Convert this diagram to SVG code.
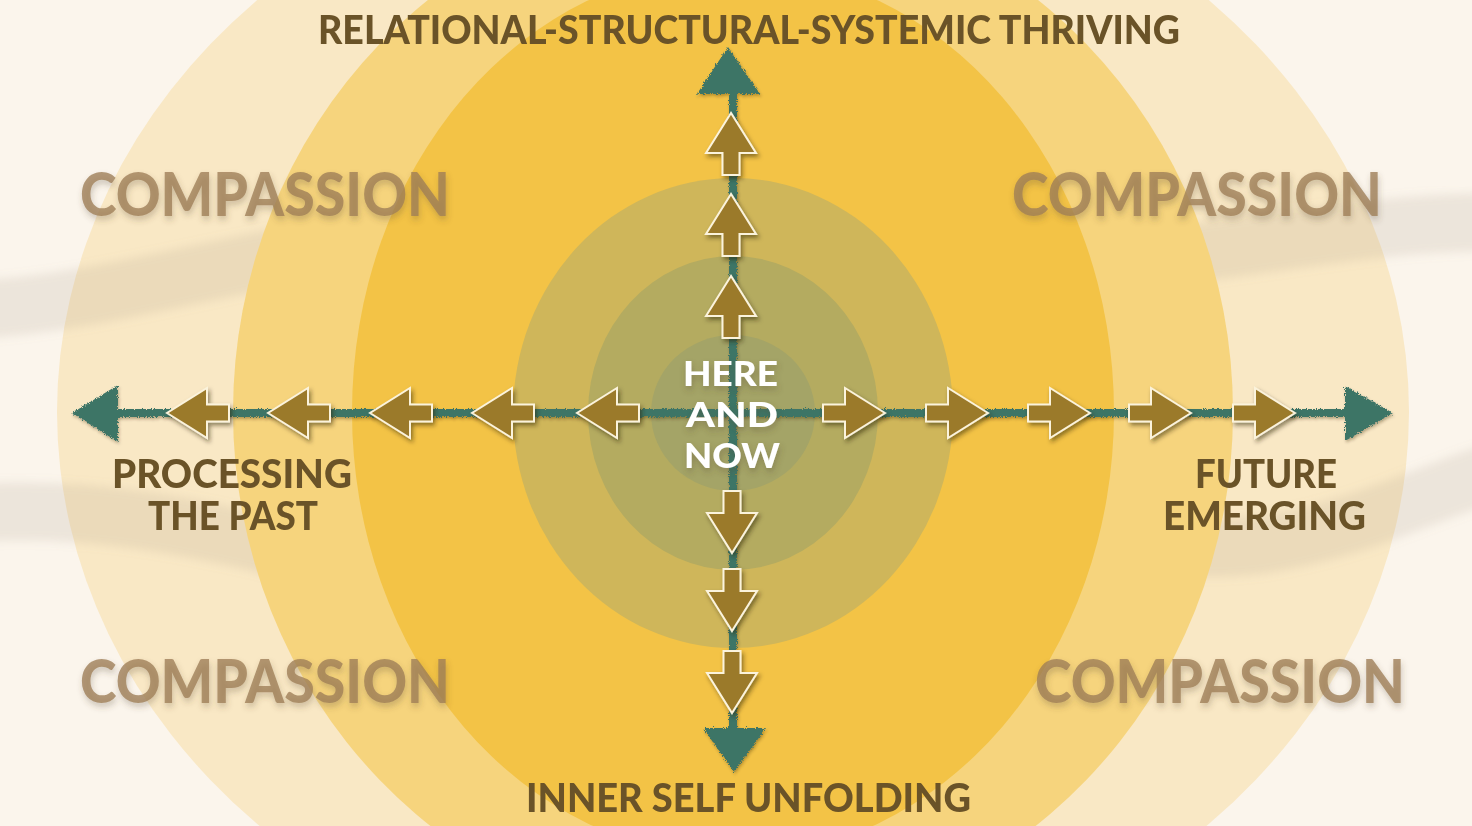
<svg xmlns="http://www.w3.org/2000/svg" width="1472" height="826" viewBox="0 0 1472 826">
<defs>
<style>
.lbl{font-family:"Lato","Open Sans","Liberation Sans",sans-serif;font-weight:900;fill:#6a5328;}
.comp{font-family:"Lato","Open Sans","Liberation Sans",sans-serif;font-weight:900;fill:#9e7d57;fill-opacity:0.78;font-size:60px;}
.ctr{font-family:"Lato","Open Sans","Liberation Sans",sans-serif;font-weight:900;fill:#ffffff;font-size:35px;}
.chalk{fill:#3e7466;}
.blk{fill:#9b7a2c;stroke:#fbf3dc;stroke-width:2;stroke-linejoin:miter;}
</style>
<filter id="shadow" x="-20%" y="-20%" width="140%" height="140%">
<feDropShadow dx="2" dy="3" stdDeviation="2" flood-color="#2b1d05" flood-opacity="0.5"/>
</filter>
<filter id="softshadow" x="-10%" y="-30%" width="120%" height="160%">
<feDropShadow dx="1" dy="4" stdDeviation="3" flood-color="#5a4630" flood-opacity="0.35"/>
</filter>
<filter id="chalky" x="-5%" y="-5%" width="110%" height="110%">
<feTurbulence type="fractalNoise" baseFrequency="0.9" numOctaves="2" seed="3" result="n"/>
<feDisplacementMap in="SourceGraphic" in2="n" scale="5" xChannelSelector="R" yChannelSelector="G" result="d"/>
<feDropShadow dx="1" dy="2" stdDeviation="1.5" flood-color="#3a2a00" flood-opacity="0.35"/>
</filter>
<filter id="blur8"><feGaussianBlur stdDeviation="5"/></filter>
<path id="ba" d="M0,0 L-40,-25 L-40,-8.5 L-62,-8.5 L-62,8.5 L-40,8.5 L-40,25 Z"/>
</defs>

<rect width="1472" height="826" fill="#fbf5ec"/>

<g id="rings">
<ellipse cx="733" cy="412" rx="676" ry="580" fill="#f9e8c5"/>
<g id="waves" fill="none" stroke="#a89484" stroke-width="58" stroke-opacity="0.17" filter="url(#blur8)">
<path d="M-30,310 C120,303 250,250 480,228 C650,212 820,250 1000,262 C1180,272 1320,222 1500,222"/>
<path d="M-30,513 C100,505 200,528 330,560 C480,595 620,560 760,540 C950,515 1150,560 1260,545 C1360,530 1420,495 1500,470"/>
</g>
<ellipse cx="733" cy="412" rx="500" ry="520" fill="#f6d47d"/>
<ellipse cx="733" cy="412" rx="381" ry="445" fill="#f3c346"/>
<ellipse cx="733" cy="413" rx="220" ry="235" fill="#cfb65a"/>
<ellipse cx="733" cy="413" rx="145" ry="157" fill="#b4ab60"/>
<ellipse cx="733" cy="413" rx="82" ry="78" fill="#a4a467"/>
</g>

<g id="connectors">
<g filter="url(#chalky)">
<rect class="chalk" x="110" y="409" width="1240" height="8"/>
<rect class="chalk" x="729" y="88" width="8" height="645"/>
<polygon class="chalk" points="72,413 118,385 118,442"/>
<polygon class="chalk" points="1393,413 1345,386 1345,441"/>
<polygon class="chalk" points="728,47 697,94 760,94"/>
<polygon class="chalk" points="734,772 703,728 766,728"/>
</g>
<g filter="url(#shadow)">
<use href="#ba" class="blk" transform="translate(885,413)"/>
<use href="#ba" class="blk" transform="translate(988,413)"/>
<use href="#ba" class="blk" transform="translate(1090,413)"/>
<use href="#ba" class="blk" transform="translate(1191,413)"/>
<use href="#ba" class="blk" transform="translate(1295,413)"/>
<use href="#ba" class="blk" transform="translate(577,413) rotate(180)"/>
<use href="#ba" class="blk" transform="translate(472,413) rotate(180)"/>
<use href="#ba" class="blk" transform="translate(370,413) rotate(180)"/>
<use href="#ba" class="blk" transform="translate(268,413) rotate(180)"/>
<use href="#ba" class="blk" transform="translate(167,413) rotate(180)"/>
<use href="#ba" class="blk" transform="translate(731,113) rotate(-90)"/>
<use href="#ba" class="blk" transform="translate(731,194) rotate(-90)"/>
<use href="#ba" class="blk" transform="translate(731,276) rotate(-90)"/>
<use href="#ba" class="blk" transform="translate(732,553) rotate(90)"/>
<use href="#ba" class="blk" transform="translate(732,631) rotate(90)"/>
<use href="#ba" class="blk" transform="translate(732,713) rotate(90)"/>
</g>
</g>

<g id="node-top"><text class="lbl" x="749" y="44" font-size="40" text-anchor="middle" textLength="862" lengthAdjust="spacingAndGlyphs">RELATIONAL-STRUCTURAL-SYSTEMIC THRIVING</text></g>
<g id="node-bottom"><text class="lbl" x="748.5" y="812" font-size="40" text-anchor="middle" textLength="445" lengthAdjust="spacingAndGlyphs">INNER SELF UNFOLDING</text></g>
<g id="node-left">
<text class="lbl" x="232" y="488" font-size="39" text-anchor="middle" textLength="240" lengthAdjust="spacingAndGlyphs">PROCESSING</text>
<text class="lbl" x="233" y="530" font-size="39" text-anchor="middle" textLength="170" lengthAdjust="spacingAndGlyphs">THE PAST</text>
</g>
<g id="node-right">
<text class="lbl" x="1266" y="488" font-size="39" text-anchor="middle" textLength="142" lengthAdjust="spacingAndGlyphs">FUTURE</text>
<text class="lbl" x="1264.5" y="530" font-size="39" text-anchor="middle" textLength="203" lengthAdjust="spacingAndGlyphs">EMERGING</text>
</g>
<g id="node-center" filter="url(#softshadow)">
<text class="ctr" x="730.5" y="386" text-anchor="middle" textLength="95" lengthAdjust="spacingAndGlyphs">HERE</text>
<text class="ctr" x="732" y="427" text-anchor="middle" textLength="92" lengthAdjust="spacingAndGlyphs">AND</text>
<text class="ctr" x="732" y="468" text-anchor="middle" textLength="96" lengthAdjust="spacingAndGlyphs">NOW</text>
</g>
<g id="node-compassion-tl" filter="url(#softshadow)"><text class="comp" x="80" y="216" textLength="370" lengthAdjust="spacingAndGlyphs">COMPASSION</text></g>
<g id="node-compassion-tr" filter="url(#softshadow)"><text class="comp" x="1012" y="216" textLength="370" lengthAdjust="spacingAndGlyphs">COMPASSION</text></g>
<g id="node-compassion-bl" filter="url(#softshadow)"><text class="comp" x="80" y="703" textLength="370" lengthAdjust="spacingAndGlyphs">COMPASSION</text></g>
<g id="node-compassion-br" filter="url(#softshadow)"><text class="comp" x="1035" y="703" textLength="370" lengthAdjust="spacingAndGlyphs">COMPASSION</text></g>
</svg>
